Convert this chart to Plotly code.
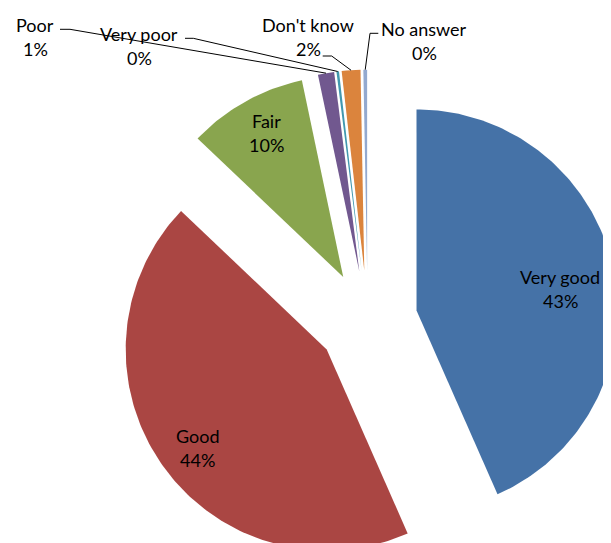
import numpy as np
import plotly.graph_objects as go

# data (share of answers, %)
categories = ["Very good", "Good", "Fair", "Poor", "Very poor", "Don't know", "No answer"]
shares = [43.4, 43.7, 9.6, 1.3, 0.2, 1.5, 0.3]

colors = ["#4572A7", "#AA4643", "#89A54E", "#71588F", "#4198AF", "#DB843D", "#93A9CF"]

# page pixels; the browser body keeps an 8px margin, so the figure starts at (8, 8)
PAGE_W, PAGE_H = 611, 543
OFF = 8
# layout of the pie (the original is cropped right and bottom)
CX, CY = 367.6, 320.7
R = 201
EXPLODE = 50
FONT = dict(family="Lato, 'Open Sans', sans-serif", size=18, color="black")

# label spots: centre x, baseline of first line (second line sits one row lower)
label_pos = {
    "Very good": (560, 283),
    "Good": (197.5, 442),
    "Fair": (266, 127),
    "Poor": (35, 31),
    "Very poor": (139, 40),
    "Don't know": (308, 31),
    "No answer": (424, 35),
}
# leader lines start next to the outside labels
leader_start = {
    "Poor": [(60, 29.3), (70, 29.3)],
    "Very poor": [(185, 38.3), (193.3, 38.3)],
    "Don't know": [(322.7, 56), (331.7, 56)],
    "No answer": [(378.3, 33.3), (370, 33.3)],
}
LINE_GAP = 24.5

fig = go.Figure()

total = sum(shares)
bounds = np.concatenate([[0], np.cumsum(shares)]) / total * 2 * np.pi
anchors = {}
for i, cat in enumerate(categories):
    a0, a1 = bounds[i], bounds[i + 1]
    mid = (a0 + a1) / 2
    ox = CX + EXPLODE * np.sin(mid)
    oy = CY - EXPLODE * np.cos(mid)
    t = np.linspace(a0, a1, max(4, int(np.degrees(a1 - a0))))
    xs = np.concatenate([[ox], ox + R * np.sin(t), [ox]])
    ys = np.concatenate([[oy], oy - R * np.cos(t), [oy]])
    fig.add_trace(
        go.Scatter(
            x=xs, y=ys,
            mode="lines",
            fill="toself",
            fillcolor=colors[i],
            line=dict(width=0, color=colors[i]),
            hoverinfo="skip",
            showlegend=False,
        )
    )
    anchors[cat] = (ox + R * np.sin(mid), oy - R * np.cos(mid))

for cat, pts in leader_start.items():
    px = [p[0] for p in pts] + [anchors[cat][0]]
    py = [p[1] for p in pts] + [anchors[cat][1]]
    fig.add_trace(
        go.Scatter(
            x=px, y=py,
            mode="lines",
            line=dict(color="black", width=1),
            hoverinfo="skip",
            showlegend=False,
        )
    )

for cat, share in zip(categories, shares):
    x, base = label_pos[cat]
    pct = f"{int(share + 0.5)}%"
    for k, txt in enumerate([cat, pct]):
        fig.add_annotation(
            x=x, y=base + k * LINE_GAP - 6.5,
            text=txt,
            showarrow=False,
            xanchor="center", yanchor="middle",
            font=FONT,
        )

fig.update_layout(
    width=PAGE_W - OFF, height=PAGE_H - OFF,
    margin=dict(l=0, r=0, t=0, b=0),
    paper_bgcolor="white",
    plot_bgcolor="white",
    xaxis=dict(range=[OFF, PAGE_W], visible=False, fixedrange=True),
    yaxis=dict(range=[PAGE_H, OFF], visible=False, fixedrange=True),
)

fig.write_html("out.html")
